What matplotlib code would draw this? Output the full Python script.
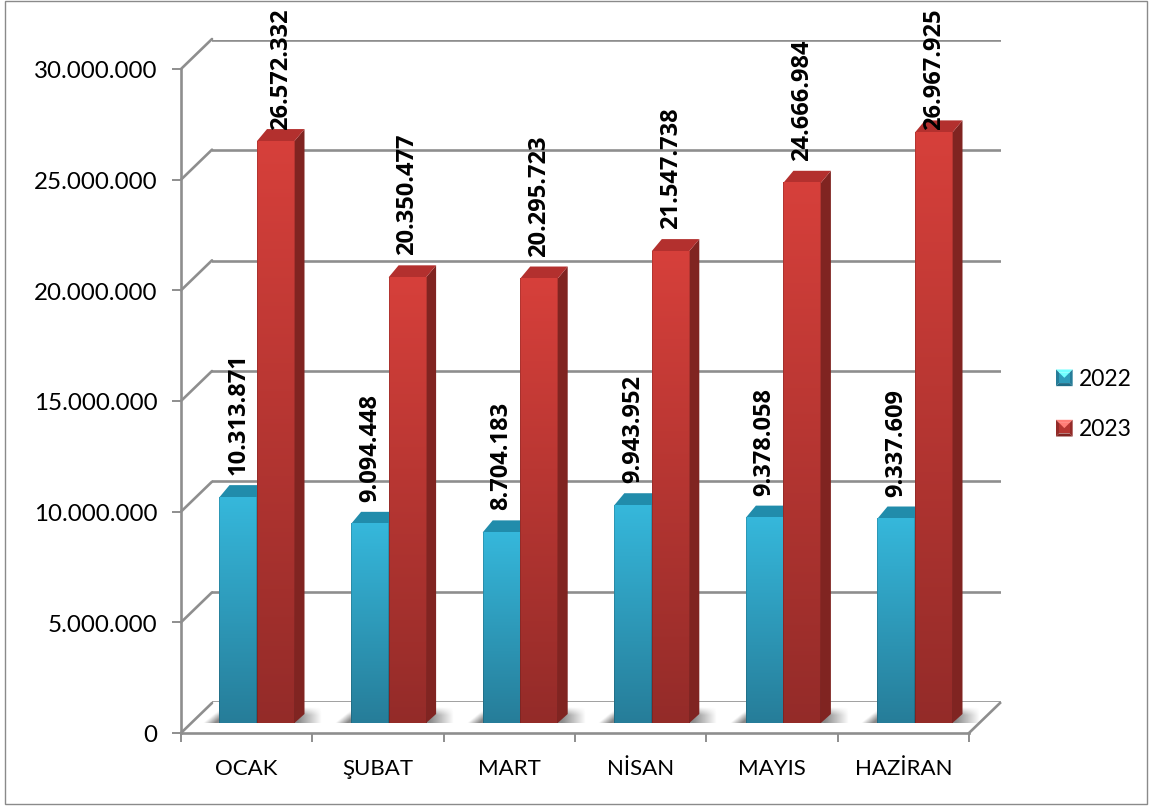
import numpy as np
import matplotlib
matplotlib.use("Agg")
import matplotlib.pyplot as plt
from matplotlib.patches import Polygon, Rectangle
from matplotlib.legend_handler import HandlerBase
from matplotlib.ticker import FuncFormatter
from matplotlib.transforms import ScaledTranslation

months = ["OCAK", "ŞUBAT", "MART", "NİSAN", "MAYIS", "HAZİRAN"]
series_names = ["2022", "2023"]
values_2022 = [10313871, 9094448, 8704183, 9943952, 9378058, 9337609]
values_2023 = [26572332, 20350477, 20295723, 21547738, 24666984, 26967925]

W, H = 1157, 807
GRID = "#8E8E8E"
LW = 1.9
plt.rcParams["font.family"] = ["Lato", "DejaVu Sans"]


def axes_px(left, top, right, bottom):
    return fig.add_axes([left / W, 1 - bottom / H, (right - left) / W, (bottom - top) / H])


def dotted(v, _=None):
    return f"{int(v):,}".replace(",", ".")


def shade(rgb, f):
    return tuple(min(1.0, c * f) for c in rgb)


fig = plt.figure(figsize=(W / 100, H / 100), dpi=100, facecolor="white")
fig.add_artist(Rectangle((5 / W, 1 - 804 / H), 1142 / W, 803 / H, transform=fig.transFigure,
                         fill=False, ec="#8A8A8A", lw=1.0))

YMAX = 30_000_000
yticks = np.arange(0, YMAX + 1, 5_000_000)

# back wall
back = axes_px(212, 40, 1001, 702)
back.set_xlim(0, 6)
back.set_ylim(0, YMAX)
back.set_yticks(yticks)
back.set_xticks([])
back.tick_params(left=False, labelleft=False)
back.grid(axis="y", color=GRID, lw=LW)
for s in back.spines.values():
    s.set_visible(False)

# front plane, carrying axis, ticks and labels
front = axes_px(181, 69, 969, 733)
front.patch.set_alpha(0)
front.set_xlim(0, 6)
front.set_ylim(0, YMAX)
front.set_yticks(yticks)
front.yaxis.set_major_formatter(FuncFormatter(dotted))
front.set_xticks(np.arange(7))
front.set_xticks(np.arange(6) + 0.5, minor=True)
front.set_xticklabels([""] * 7)
front.set_xticklabels(months, minor=True, fontsize=16)
front.tick_params(axis="x", which="major", length=6.5, width=1.4, color=GRID)
front.tick_params(axis="x", which="minor", length=0, pad=18.5)
front.tick_params(axis="y", length=6.5, width=1.4, color=GRID, labelsize=17.4, pad=10.5)
for lab in front.get_yticklabels():
    lab.set_transform(lab.get_transform() + ScaledTranslation(0, -1 / 100, fig.dpi_scale_trans))
for s in ("top", "right"):
    front.spines[s].set_visible(False)
for s in ("left", "bottom"):
    front.spines[s].set_color(GRID)
    front.spines[s].set_linewidth(LW)

# diagonals joining the front plane to the back wall
DX_WALL = 31 * 6 / 788
DY_WALL = 30 * YMAX / 664
for t in yticks:
    front.plot([0, DX_WALL], [t, t + DY_WALL], color=GRID, lw=LW, clip_on=False,
               solid_capstyle="round")
front.plot([6, 6 + DX_WALL], [0, DY_WALL], color=GRID, lw=LW, clip_on=False)

# bars
bars_ax = axes_px(191.2, 66, 980.8, 723)
bars_ax.patch.set_alpha(0)
bars_ax.axis("off")
XS = 789.6 / 6
YS = 657 / YMAX
BAR_W = 37.5 / XS
DEPTH_X = 10 / XS
DEPTH_Y = 12 / YS
x = np.arange(6) + 0.5

palettes = [
    {"top": (0.21, 0.72, 0.86), "bot": (0.15, 0.49, 0.60), "cap": (0.13, 0.55, 0.67),
     "side": (0.12, 0.42, 0.52), "side2": (0.08, 0.30, 0.38)},
    {"top": (0.84, 0.25, 0.23), "bot": (0.58, 0.17, 0.16), "cap": (0.70, 0.19, 0.18),
     "side": (0.50, 0.14, 0.13), "side2": (0.36, 0.10, 0.09)},
]


def draw_shadow(left, right):
    nx, ny = 160, 40
    u = np.linspace(0, 1, nx)
    v = np.linspace(0, 1, ny)
    uu, vv = np.meshgrid(u, v)
    a = np.clip((uu - 0.16 * (1 - vv)) / 0.10, 0, 1)
    b = np.clip((1.0 - uu) / 0.20, 0, 1)
    c = np.clip(vv / 0.5, 0, 1)
    img = np.zeros((ny, nx, 4))
    img[..., :3] = 0.38
    img[..., 3] = 0.75 * a * b * c
    bars_ax.imshow(img, extent=[left, right, 0, 16 / YS], origin="upper", aspect="auto",
                   interpolation="bilinear", zorder=1, clip_on=False)


for i in range(6):
    draw_shadow(x[i] - BAR_W - 16 / XS, x[i] + BAR_W + 28 / XS)

for k, (vals, pal) in enumerate(zip((values_2022, values_2023), palettes)):
    offs = -BAR_W / 2 if k == 0 else BAR_W / 2
    rects = bars_ax.bar(x + offs, vals, width=BAR_W, color=pal["bot"], zorder=3 + k,
                        clip_on=False)
    for r in rects:
        x0, w, h = r.get_x(), r.get_width(), r.get_height()
        z = 3 + k + 0.1
        # side face
        bars_ax.add_patch(Polygon([(x0 + w, 0), (x0 + w + DEPTH_X, DEPTH_Y * 0.75),
                                   (x0 + w + DEPTH_X, h + DEPTH_Y), (x0 + w, h)],
                                  fc=pal["side"], ec="none", zorder=z, clip_on=False))
        # cap
        bars_ax.add_patch(Polygon([(x0, h), (x0 + w, h), (x0 + w + DEPTH_X, h + DEPTH_Y),
                                   (x0 + DEPTH_X, h + DEPTH_Y)],
                                  fc=pal["cap"], ec="none", zorder=z, clip_on=False,
                                  joinstyle="round"))
        # front gradient, slightly darker along the edges
        ny = 128
        grad = np.linspace(pal["top"], pal["bot"], ny)[:, None, :]
        img = np.repeat(grad, 38, axis=1)
        img[:, 0] *= 0.85
        img[:, -1] *= 0.85
        bars_ax.imshow(img, extent=[x0, x0 + w, 0, h], origin="upper", aspect="auto",
                       interpolation="bilinear", zorder=z + 0.1, clip_on=False)

bars_ax.set_xlim(0, 6)
bars_ax.set_ylim(0, YMAX)

# rotated value labels, kept inside the chart area at the top
label_ax = axes_px(191.2, 66, 980.8, 723)
label_ax.patch.set_alpha(0)
label_ax.axis("off")
label_ax.set_xlim(0, 6)
label_ax.set_ylim(0, YMAX)
LABEL_GAP = 22 / YS
LABEL_CEIL = (723 - 130) / YS
for k, vals in enumerate((values_2022, values_2023)):
    offs = -BAR_W / 2 if k == 0 else BAR_W / 2
    for i, v in enumerate(vals):
        nudge = 5 / XS if (k, i) == (1, 0) else 0
        label_ax.text(x[i] + offs + nudge, min(v + LABEL_GAP, LABEL_CEIL), dotted(v), rotation=90,
                      ha="center", va="bottom", fontsize=17, fontweight="bold",
                      family=["Open Sans", "DejaVu Sans"],
                      color="black", clip_on=False, rotation_mode="default")


# legend with bevelled keys
class BevelHandler(HandlerBase):
    def __init__(self, pal):
        super().__init__()
        self.pal = pal

    def create_artists(self, legend, orig, xd, yd, w, h, fontsize, trans):
        s = 12
        x0, y0 = -xd, -yd + (h - s) / 2
        x1, y1 = x0 + s, y0 + s
        i = 2.2
        p = self.pal
        light = tuple(min(1.0, c * 1.25 + 0.18) for c in p["top"])
        parts = [
            ([(x0, y1), (x1, y1), (x1 - i, y1 - i), (x0 + i, y1 - i)], light),
            ([(x0, y0), (x0, y1), (x0 + i, y1 - i), (x0 + i, y0 + i)], p["bot"]),
            ([(x1, y0), (x1, y1), (x1 - i, y1 - i), (x1 - i, y0 + i)], p["bot"]),
            ([(x0, y0), (x1, y0), (x1 - i, y0 + i), (x0 + i, y0 + i)], p["side"]),
            ([(x0 + i, y0 + i), (x1 - i, y0 + i), (x1 - i, y1 - i), (x0 + i, y1 - i)], shade(p["top"], 0.85)),
            ([(x0 + i, y1 - i), (x1 - i, y1 - i), ((x0 + x1) / 2, (y0 + y1) / 2)], light),
        ]
        return [Polygon(pts, fc=c, ec="none", transform=trans) for pts, c in parts]


handles = [Rectangle((0, 0), 1, 1, label=n) for n in series_names]
fig.legend(handles=handles, labels=series_names,
           handler_map={handles[0]: BevelHandler(palettes[0]), handles[1]: BevelHandler(palettes[1])},
           loc="center left", bbox_to_anchor=(1056 / W, 1 - 404.5 / H), frameon=False,
           fontsize=16.5, handlelength=0.75, handletextpad=0.25, labelspacing=1.28,
           borderpad=0, borderaxespad=0)

fig.savefig("out.png", dpi=100, facecolor="white")
